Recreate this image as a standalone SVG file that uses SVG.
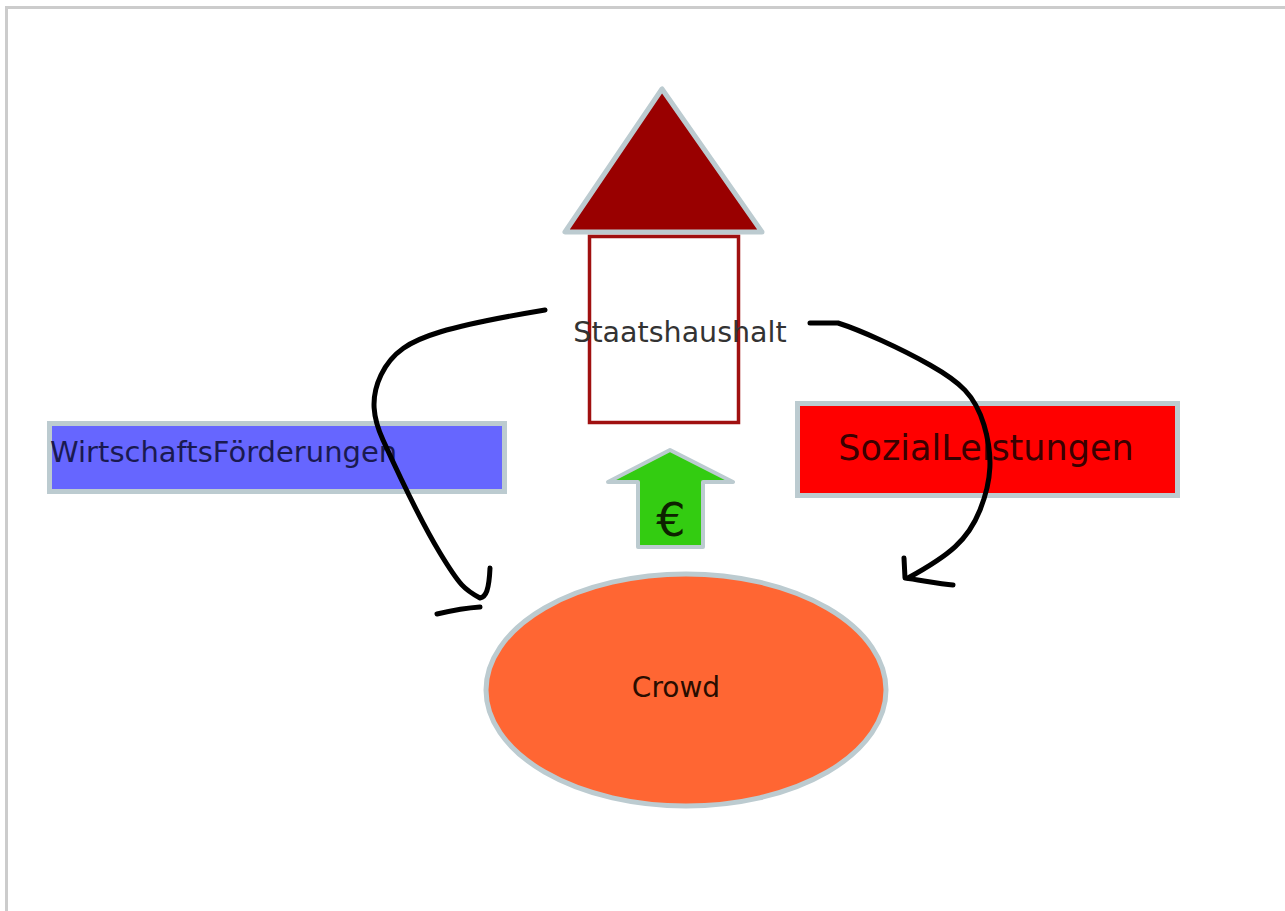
<svg xmlns="http://www.w3.org/2000/svg" width="1285" height="911" viewBox="0 0 1285 911">
<style>
.lbl{font-family:"DejaVu Sans","Liberation Sans",sans-serif;}
.edge{fill:none;stroke:#000;stroke-width:5;stroke-linecap:round;stroke-linejoin:round;}
.outline{stroke:#bccbd0;}
</style>
<rect x="0" y="0" width="1285" height="911" fill="#ffffff"/>
<path d="M6.5 911 V7.5 H1285" fill="none" stroke="#cccccc" stroke-width="3"/>
<g id="staatshaushalt">
<polygon class="outline" points="662,89 565,232 762,232" fill="#990000" stroke-width="5" stroke-linejoin="round"/>
<rect x="589.5" y="236.5" width="149" height="186" fill="#ffffff" stroke="#a01010" stroke-width="3.5"/>
<text class="lbl" x="680" y="342" font-size="28.5" text-anchor="middle" fill="#333333">Staatshaushalt</text>
</g>
<g id="wirtschaft">
<rect class="outline" x="49.5" y="423.5" width="455" height="68" fill="#6666ff" stroke-width="5"/>
<text class="lbl" x="50" y="462" font-size="29" fill="#1a1a50">WirtschaftsFörderungen</text>
</g>
<g id="sozial">
<rect class="outline" x="797.5" y="403.5" width="380" height="92" fill="#ff0000" stroke-width="5"/>
<text class="lbl" x="986" y="460" font-size="35" text-anchor="middle" fill="#3a0000">SozialLeistungen</text>
</g>
<g id="euro">
<polygon class="outline" points="670,450 733,482 703,482 703,547 638,547 638,482 608,482" fill="#33cc11" stroke-width="4" stroke-linejoin="round"/>
<text class="lbl" x="671" y="536" font-size="46" text-anchor="middle" fill="#0d2200">€</text>
</g>
<g id="crowd">
<ellipse class="outline" cx="686" cy="690" rx="200" ry="116" fill="#ff6633" stroke-width="5"/>
<text class="lbl" x="676" y="697" font-size="28" text-anchor="middle" fill="#2a0d00">Crowd</text>
</g>
<g id="connectors">
<path class="edge" d="M545 310 C515 315 470 323 440 332 S392 352 381 375 S373 418 383 440 S420 520 440 553 S465 590 480 598 C486 597 489 590 490 568"/>
<path class="edge" d="M437 614 C450 611 465 608 480 607"/>
<path class="edge" d="M810 323 L838 323 C860 330 900 348 930 365 S975 395 984 425 S992 480 980 510 S950 555 908 578"/>
<path class="edge" d="M904 558 L905 578 C920 580 940 584 953 585"/>
</g>
</svg>
